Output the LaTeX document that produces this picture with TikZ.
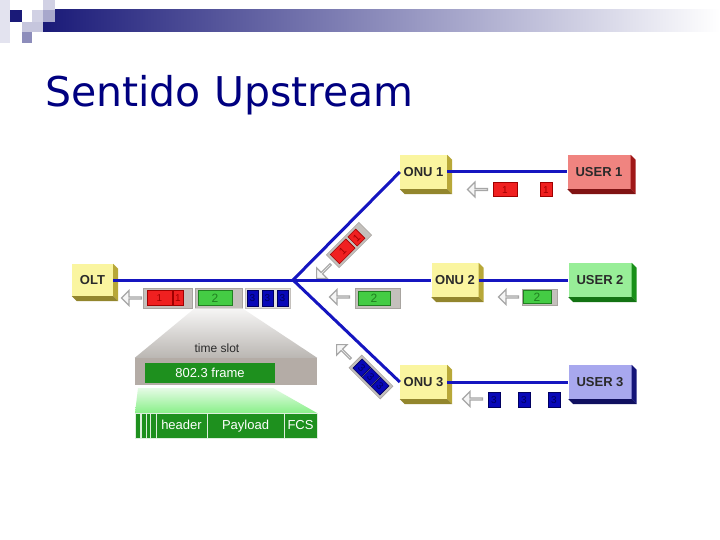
\documentclass[tikz,border=0pt]{standalone}
\usepackage{fontspec}
\setmainfont{Liberation Sans}
\newfontfamily\titlefont{DejaVu Sans}
\usetikzlibrary{shapes.arrows,calc}
\definecolor{navy}{HTML}{1A1A78}
\definecolor{titlecol}{HTML}{000080}
\definecolor{linecol}{HTML}{1515C0}
\definecolor{yfront}{HTML}{FAF5A0}
\definecolor{yside}{HTML}{B8A838}
\definecolor{rfront}{HTML}{F08480}
\definecolor{rside}{HTML}{A01818}
\definecolor{gfront}{HTML}{98EE98}
\definecolor{gside}{HTML}{189018}
\definecolor{bfront}{HTML}{A8A8EE}
\definecolor{bside}{HTML}{141478}
\definecolor{pktred}{HTML}{F02020}
\definecolor{pktredd}{HTML}{A00000}
\definecolor{pktgreen}{HTML}{44CC44}
\definecolor{pktgreend}{HTML}{208020}
\definecolor{pktblue}{HTML}{0808B8}
\definecolor{pktblued}{HTML}{000060}
\definecolor{contgray}{HTML}{C4C0BC}
\definecolor{contgrayd}{HTML}{A8A4A0}
\definecolor{slotgray}{HTML}{B4ACA6}
\definecolor{framegreen}{HTML}{1E901E}
\definecolor{txtdark}{HTML}{2A2A2A}
\newcommand\boxsides[2]{%
  \fill[#2] (#1.north east) -- ++(5,5) -- ($(#1.south east)+(5,5)$) -- (#1.south east) -- cycle;
  \fill[#2!80!black] (#1.south west) -- (#1.south east) -- ($(#1.south east)+(5,5)$) -- ($(#1.south west)+(5,5)$) -- cycle;}
\tikzset{
  box3d/.style={draw=none, inner sep=0, font=\fontsize{13}{13}\selectfont\bfseries, text=txtdark, minimum height=34,
    text height=9.5, text depth=0},
  onu/.style={box3d, fill=yfront, minimum width=47},
  olt/.style={box3d, fill=yfront, minimum width=41, minimum height=32},
  user/.style={box3d, minimum width=63},
  link/.style={draw=linecol, line width=3},
  cont/.style={fill=contgray, draw=contgrayd, line width=0.6, inner sep=0},
  pkt/.style={inner sep=0, font=\fontsize{10}{10}\selectfont, line width=0.6, text height=7.2, text depth=0},
  redpkt/.style={pkt, fill=pktred, draw=pktredd, text=pktredd},
  greenpkt/.style={pkt, fill=pktgreen, draw=pktgreend, text=pktgreend, font=\fontsize{12}{12}\selectfont, text height=8.6},
  bluepkt/.style={pkt, fill=pktblue, draw=pktblued, text=pktblued},
  harrow/.style={single arrow, draw=gray!70, fill=gray!8, line width=1.1,
    minimum height=20pt, minimum width=15pt, single arrow head extend=3.5pt, inner sep=0, rotate=180},
  cell/.style={fill=framegreen, draw=white!85!framegreen, line width=1, inner sep=0, minimum height=25,
    text=white, font=\fontsize{13}{13}\selectfont, text height=9.5, text depth=2.5},
}
\begin{document}
\begin{tikzpicture}[x=1pt,y=-1pt]
\useasboundingbox (0,0) rectangle (720,540);
\fill[white] (0,0) rectangle (720,540);
% top decoration
\shade[left color=navy, right color=white] (43,10) rectangle (720,32);
\fill[white!88!navy] (0,0) rectangle (10,43);
\fill[navy] (10,10) rectangle (22,22);
\fill[white!80!navy] (32,10) rectangle (43,22);
\fill[white!62!navy] (43,10) rectangle (55,22);
\fill[white!80!navy] (43,0) rectangle (55,10);
\fill[white!75!navy] (22,22) rectangle (43,32);
\fill[white!50!navy] (22,32) rectangle (32,43);
% title
\node[anchor=base west, inner sep=0, text=titlecol, font=\titlefont\fontsize{41}{41}\selectfont] (title) at (45,107) {Sentido Upstream};

% boxes
\node[olt] (olt) at (92.5,280) {OLT};
\node[onu] (onu1) at (423.5,172) {ONU 1};
\node[onu] (onu2) at (455,280) {ONU 2};
\node[onu] (onu3) at (423.5,382) {ONU 3};
\node[user, fill=rfront] (user1) at (599,172) {USER 1};
\node[user, fill=gfront] (user2) at (600,280) {USER 2};
\node[user, fill=bfront] (user3) at (600,382) {USER 3};
\boxsides{olt}{yside}
\boxsides{onu1}{yside}
\boxsides{onu2}{yside}
\boxsides{onu3}{yside}
\boxsides{user1}{rside}
\boxsides{user2}{gside}
\boxsides{user3}{bside}

% links
\coordinate (J) at (293,280);
\draw[link] (olt.east) -- (J);
\draw[link] (J) -- (onu1.west);
\draw[link] (J) -- (onu2.west);
\draw[link] (J) -- (onu3.west);
\draw[link] (onu1.east) -- (user1.west);
\draw[link] (onu2.east) -- (user2.west);
\draw[link] (onu3.east) -- (user3.west);

% branch 1 packets
\node[harrow] (ar1) at (478,189.5) {};
\node[redpkt, minimum width=24, minimum height=14] (p1a) at (505,189.5) {1};
\node[redpkt, minimum width=12, minimum height=14] (p1b) at (546,189.5) {1};
\begin{scope}[shift={(349,245)}, rotate=45, transform shape]
  \node[cont, minimum width=46, minimum height=18] (d1) at (0,0) {};
  \node[redpkt, minimum width=22, minimum height=13] (d1a) at (-9,0) {1};
  \node[redpkt, minimum width=11, minimum height=13] (d1b) at (10.5,0) {1};
\end{scope}
\node[harrow, rotate=45] (ad1) at (324,271) {};

% branch 2 packets
\node[harrow] (ar2) at (509,297) {};
\node[cont, minimum width=35, minimum height=16] (c22) at (539.5,297) {};
\node[greenpkt, minimum width=28, minimum height=13] (p2a) at (537,297) {2};
\node[harrow] (ad2) at (340,297) {};
\node[cont, minimum width=45, minimum height=20] (c21) at (377.5,298) {};
\node[greenpkt, minimum width=32, minimum height=14] (p2b) at (374,298) {2};

% branch 3 packets
\node[harrow] (ar3) at (473,399) {};
\node[bluepkt, minimum width=12, minimum height=15] (p3a) at (494,399.5) {3};
\node[bluepkt, minimum width=12, minimum height=15] (p3b) at (524,399.5) {3};
\node[bluepkt, minimum width=12, minimum height=15] (p3c) at (554,399.5) {3};
\begin{scope}[shift={(371,377)}, rotate=-45, transform shape]
  \node[cont, minimum width=44, minimum height=18] (d3) at (0,0) {};
  \node[bluepkt, minimum width=12, minimum height=13] (d3a) at (-13,0) {3};
  \node[bluepkt, minimum width=12, minimum height=13] (d3b) at (0,0) {3};
  \node[bluepkt, minimum width=12, minimum height=13] (d3c) at (13,0) {3};
\end{scope}
\node[harrow, rotate=-45] (ad3) at (344,352) {};

% OLT packets
\node[harrow] (ar0) at (132,298) {};
\node[cont, minimum width=49, minimum height=20] (c1) at (167.5,298) {};
\node[redpkt, minimum width=25, minimum height=15] (o1a) at (159.5,298) {1};
\node[redpkt, minimum width=10, minimum height=15] (o1b) at (178,298) {1};
\node[cont, minimum width=47, minimum height=20] (c2) at (218.5,298) {};
\node[greenpkt, minimum width=34, minimum height=15] (o2) at (215,298) {2};
\node[cont, fill=contgray!50, draw=contgray, minimum width=45, minimum height=20] (c3) at (267.5,298) {};
\node[bluepkt, minimum width=11, minimum height=16] (o3a) at (252.5,298) {3};
\node[bluepkt, minimum width=11, minimum height=16] (o3b) at (267.5,298) {3};
\node[bluepkt, minimum width=11, minimum height=16] (o3c) at (282.5,298) {3};

% time slot zoom
\node[fill=slotgray, inner sep=0, minimum width=182, minimum height=27] (slot) at (226,371.5) {};
\shade[top color=white!85!contgray, bottom color=contgray!95!black] (c2.south west) -- (c2.south east) -- (slot.north east) -- (slot.north west) -- cycle;
\node[text=txtdark, font=\fontsize{12}{12}\selectfont] (tslabel) at (217,348) {time slot};
\node[fill=framegreen, inner sep=0, minimum width=130, minimum height=20, text=white, font=\fontsize{13}{13}\selectfont] (frame) at (210,373) {802.3 frame};

% frame zoom
\shade[top color=white!75!gfront, bottom color=gfront!90!green] (138,388) -- (273,388) -- (317,413) -- (135,413) -- cycle;
\node[cell, minimum width=5.5] (s1) at (137.75,425.5) {};
\node[cell, minimum width=4.5] (s2) at (143.75,425.5) {};
\node[cell, minimum width=4.5] (s3) at (148.25,425.5) {};
\node[cell, minimum width=5.5] (s4) at (153.25,425.5) {};
\node[cell, minimum width=51] (hdr) at (181.5,425.5) {header};
\node[cell, minimum width=77] (pay) at (245.5,425.5) {Payload};
\node[cell, minimum width=33] (fcs) at (300.5,425.5) {FCS};
\end{tikzpicture}
\end{document}
